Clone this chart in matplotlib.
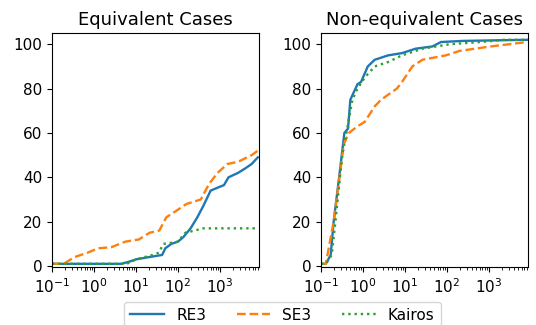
import matplotlib
matplotlib.use("Agg")
import matplotlib.pyplot as plt

# cumulative number of solved cases vs. time (s)
eq_re3_t = [0.1, 4.5, 7, 10, 20, 42, 50, 70, 100, 134, 200, 290, 400, 600, 800, 1250, 1600, 2700, 4000, 5700, 8000]
eq_re3_y = [1, 1, 2, 3, 4, 5, 8, 10, 11, 13, 17, 22, 27, 34, 35, 36.5, 40, 42, 44, 46, 49]

eq_se3_t = [0.1, 0.19, 0.34, 0.7, 1.25, 2.6, 5.6, 11.8, 21, 36, 53, 93, 160, 350, 550, 880, 1500, 2700, 5700, 8000]
eq_se3_y = [1, 1, 4, 6, 8, 8.5, 11, 12, 15, 16, 22, 25, 28, 30, 37, 42, 46, 47, 50, 52]

eq_kai_t = [0.1, 6, 10, 25, 35, 45, 70, 100, 150, 250, 400, 8000]
eq_kai_y = [1, 1, 3, 5, 6, 10, 10.5, 11, 15, 16, 17, 17]

ne_re3_t = [0.1, 0.13, 0.17, 0.2, 0.27, 0.36, 0.44, 0.5, 0.74, 0.9, 1.3, 1.9, 4, 8.5, 18, 45, 72, 240, 8000]
ne_re3_y = [1, 1, 5, 20, 40, 60, 62, 75, 82, 83, 90, 93, 95, 96, 98, 99, 101, 101.5, 102]

ne_se3_t = [0.1, 0.13, 0.2, 0.35, 0.46, 0.74, 1.1, 1.9, 2.7, 6.4, 8.5, 15, 26, 95, 200, 1100, 3000, 8000]
ne_se3_y = [1, 1, 20, 55, 60, 63, 65, 72, 75, 80, 83, 90, 93, 95, 97, 99, 100, 101]

ne_kai_t = [0.1, 0.13, 0.18, 0.22, 0.32, 0.42, 0.56, 0.74, 1.1, 1.9, 4, 8.5, 26, 116, 630, 2300, 8000]
ne_kai_y = [1, 1, 5, 20, 50, 62, 75, 80, 85, 90, 92, 95, 98, 100, 101, 102, 102]

titles = ["Equivalent Cases", "Non-equivalent Cases"]
names = ["RE3", "SE3", "Kairos"]

plt.rcParams["font.size"] = 11

fig, axes = plt.subplots(1, 2, figsize=(5.36, 3.25), dpi=100)
fig.subplots_adjust(left=0.097, right=0.985, bottom=0.178, top=0.898, wspace=0.3)

panels = [
    [(eq_re3_t, eq_re3_y), (eq_se3_t, eq_se3_y), (eq_kai_t, eq_kai_y)],
    [(ne_re3_t, ne_re3_y), (ne_se3_t, ne_se3_y), (ne_kai_t, ne_kai_y)],
]
styles = [("#1f77b4", "-"), ("#ff7f0e", "--"), ("#2ca02c", ":")]

for ax, title, series in zip(axes, titles, panels):
    for (t, y), (c, ls), name in zip(series, styles, names):
        ax.plot(t, y, color=c, linestyle=ls, linewidth=1.7, label=name)
    ax.set_xscale("log")
    ax.set_xlim(0.1, 8500)
    ax.set_ylim(-0.5, 105)
    ax.set_yticks([0, 20, 40, 60, 80, 100])
    ax.set_title(title, fontsize=13)

handles, labels = axes[0].get_legend_handles_labels()
fig.legend(handles, labels, loc="lower center", ncol=3, bbox_to_anchor=(0.527, -0.035),
           fontsize=11, columnspacing=2.0, handlelength=2.2)

fig.savefig("out.png", dpi=100)
